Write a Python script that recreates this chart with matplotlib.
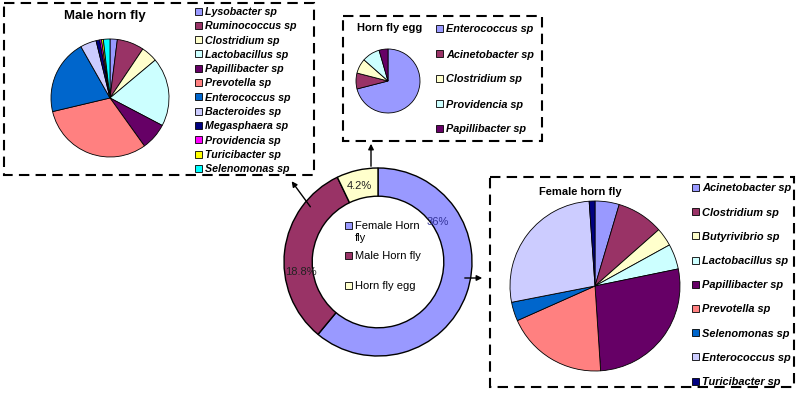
import matplotlib
matplotlib.use("Agg")
import numpy as np
import matplotlib.pyplot as plt
from matplotlib.patches import Rectangle

plt.rcParams['font.family'] = ['Liberation Sans', 'DejaVu Sans']

# Excel-style palette used by all four pies
palette = ['#9999FF', '#993366', '#FFFFCC', '#CCFFFF', '#660066', '#FF8080',
           '#0066CC', '#CCCCFF', '#000080', '#FF00FF', '#FFFF00', '#00FFFF']

# centre donut
total_labels = ['Female Horn\nfly', 'Male Horn fly', 'Horn fly egg']
total_values = [36, 18.8, 4.2]

# male horn fly
male_labels = ['Lysobacter sp', 'Ruminococcus sp', 'Clostridium sp', 'Lactobacillus sp',
               'Papillibacter sp', 'Prevotella sp', 'Enterococcus sp', 'Bacteroides sp',
               'Megasphaera sp', 'Providencia sp', 'Turicibacter sp', 'Selenomonas sp']
male_values = [2.0, 7.4, 4.5, 18.8, 7.4, 31.2, 20.5, 4.4, 1.0, 0.5, 0.5, 1.8]

# horn fly egg
egg_labels = ['Enterococcus sp', 'Acinetobacter sp', 'Clostridium sp',
              'Providencia sp', 'Papillibacter sp']
egg_values = [71.0, 8.0, 7.5, 9.0, 4.5]
egg_colors = ['#9999FF', '#993366', '#FFFFCC', '#CCFFFF', '#660066']

# female horn fly
female_labels = ['Acinetobacter sp', 'Clostridium sp', 'Butyrivibrio sp', 'Lactobacillus sp',
                 'Papillibacter sp', 'Prevotella sp', 'Selenomonas sp', 'Enterococcus sp',
                 'Turicibacter sp']
female_values = [4.6, 8.9, 3.5, 4.8, 27.2, 19.4, 3.6, 27.0, 1.1]

W, H = 797, 402
fig = plt.figure(figsize=(W / 100, H / 100), dpi=100)

# overlay in pixel coords for boxes, arrows, titles, legends
ov = fig.add_axes([0, 0, 1, 1])
ov.set_xlim(0, W)
ov.set_ylim(H, 0)
ov.axis('off')


def pie_axes(cx, cy, r, pad=1.03):
    ax = fig.add_axes([(cx - r * pad) / W, 1 - (cy + r * pad) / H,
                       2 * r * pad / W, 2 * r * pad / H])
    return ax


def draw_pie(ax, values, colors, pad=1.03, **kw):
    wedges, *_ = ax.pie(values, colors=colors, startangle=90, counterclock=False,
                        wedgeprops=dict(edgecolor='black', linewidth=0.6, **kw))
    ax.set_xlim(-pad, pad)
    ax.set_ylim(-pad, pad)
    return wedges


def legend_column(wedges, labels, x, y0, step, fs=7.5, style='italic', weight='bold'):
    for i, (w, lab) in enumerate(zip(wedges, labels)):
        y = y0 + step * i
        ov.add_patch(Rectangle((x, y - 3.5), 7, 7, facecolor=w.get_facecolor(),
                               edgecolor='black', linewidth=0.6))
        ov.text(x + 10, y, lab, fontsize=fs, style=style, weight=weight,
                va='center', ha='left')


def dashed_box(x0, y0, x1, y1):
    ov.add_patch(Rectangle((x0, y0), x1 - x0, y1 - y0, fill=False, edgecolor='black',
                           linewidth=1.5, linestyle=(0, (5, 3))))


dashed_box(4, 4, 314, 176)
dashed_box(343, 17, 542, 142)
dashed_box(490, 178, 794, 388)

arrow = dict(arrowstyle='-|>', color='black', lw=1, mutation_scale=8)
ov.annotate('', xy=(290, 180), xytext=(312, 210), arrowprops=arrow)
ov.annotate('', xy=(371, 142), xytext=(371, 170), arrowprops=arrow)
ov.annotate('', xy=(485, 279), xytext=(462, 279), arrowprops=arrow)

# male horn fly
ax_m = pie_axes(110, 99, 59)
w_m = draw_pie(ax_m, male_values, palette)
ov.text(105, 16, 'Male horn fly', fontsize=9.5, weight='bold', ha='center', va='center')
legend_column(w_m, male_labels, 195, 12, 14.3, fs=7.7)

# horn fly egg
ax_e = pie_axes(388, 82, 32)
w_e = draw_pie(ax_e, egg_values, egg_colors)
ov.text(390, 28, 'Horn fly egg', fontsize=8, weight='bold', ha='center', va='center')
legend_column(w_e, egg_labels, 436, 29.5, 25, fs=7.8)

# female horn fly
ax_f = pie_axes(595, 287, 85)
w_f = draw_pie(ax_f, female_values, palette)
ov.text(580, 192, 'Female horn fly', fontsize=8, weight='bold', ha='center', va='center')
legend_column(w_f, female_labels, 692, 188.5, 24.2, fs=7.9)

# centre donut
ax_d = pie_axes(378, 263, 94)
w_d = draw_pie(ax_d, total_values, palette[:3], width=0.3)
for w in w_d:
    w.set_linewidth(1.0)

# data labels: (clockwise angle from top, radius) per slice
label_pos = [(55.6, 0.77), (263.6, 0.83), (346.0, 0.84)]
label_colors = ['#333399', '#222222', '#222222']
for v, (ang, rad), c in zip(total_values, label_pos, label_colors):
    a = np.deg2rad(ang)
    ax_d.text(rad * np.sin(a), rad * np.cos(a), f'{v:g}%', fontsize=8,
              color=c, ha='center', va='center')

# legend inside the hole
for i, (w, lab) in enumerate(zip(w_d, total_labels)):
    y = [226.7, 256.7, 286.7][i]
    ov.add_patch(Rectangle((345, y - 3.5), 7, 7, facecolor=w.get_facecolor(),
                           edgecolor='black', linewidth=0.6, zorder=5))
    ov.text(355, y - 5.5, lab, fontsize=8, va='top', ha='left', zorder=5,
            linespacing=1.25)

# make sure overlay (legends in the hole) sits above the donut
ov.set_zorder(10)
ov.patch.set_visible(False)

fig.savefig('out.png', dpi=100)
